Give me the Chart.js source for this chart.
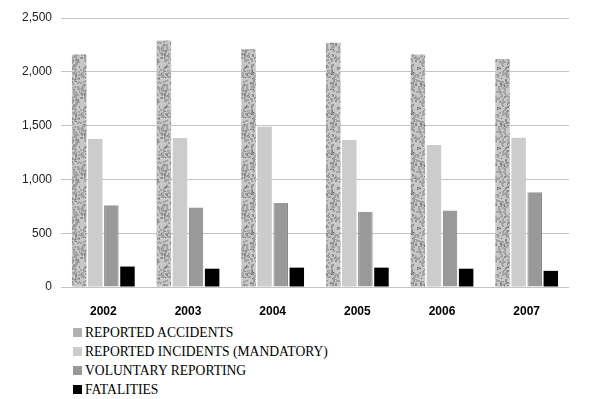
<!DOCTYPE html>
<html>
<head>
<meta charset="utf-8">
<script src="https://cdn.jsdelivr.net/npm/chart.js@4"></script>
<style>
  body { margin: 0; background: #fff; }
  #wrap { width: 595px; height: 320px; position: relative; }
  #legend { margin: 3px 0 0 73px; font-family: "Liberation Serif", "Times New Roman", serif; font-size: 13.6px; color: #000; }
  #legend div { height: 19px; line-height: 19px; display: flex; align-items: center; }
  #legend span.box { display: inline-block; width: 9px; height: 9px; margin-right: 3px; }
</style>
</head>
<body>
<div id="wrap"><canvas id="chart"></canvas></div>
<div id="legend"></div>
<script>
const years = ["2002", "2003", "2004", "2005", "2006", "2007"];
const accidents = [2160, 2290, 2210, 2270, 2160, 2120];
const incidents = [1375, 1385, 1490, 1366, 1320, 1388];
const voluntary = [760, 740, 780, 700, 710, 880];
const fatalities = [190, 170, 180, 180, 170, 150];
const seriesNames = ["REPORTED ACCIDENTS", "REPORTED INCIDENTS (MANDATORY)", "VOLUNTARY REPORTING", "FATALITIES"];

// granite-like texture for the accidents bars (fixed seed so it stays the same)
function granite() {
  const n = 40;
  const c = document.createElement("canvas");
  c.width = n; c.height = n;
  const g = c.getContext("2d");
  g.fillStyle = "#c8c8c8";
  g.fillRect(0, 0, n, n);
  let s = 11;
  const rnd = () => { s = (s * 1103515245 + 12345) & 0x7fffffff; return s / 0x7fffffff; };
  for (let k = 0; k < 260; k++) {
    const x = Math.floor(rnd() * n), y = Math.floor(rnd() * n);
    g.fillStyle = rnd() < 0.8 ? "#a2a2a2" : "#8c8c8c";
    g.fillRect(x, y, 2, 2);
  }
  for (let k = 0; k < 70; k++) {
    const x = Math.floor(rnd() * n), y = Math.floor(rnd() * n);
    g.fillStyle = rnd() < 0.5 ? "#bcbcdc" : "#6e6e6e";
    g.fillRect(x, y, 1, 1);
  }
  return g.createPattern(c, "repeat");
}
const pat = granite();

const colors = [pat, "#cccccc", "#999999", "#000000"];
const borders = [pat, "#cccccc", "#7a7a7a", "#000000"];
const values = [accidents, incidents, voluntary, fatalities];

new Chart(document.getElementById("chart"), {
  type: "bar",
  data: {
    labels: years,
    datasets: values.map((v, i) => ({
      label: seriesNames[i],
      data: v,
      backgroundColor: colors[i],
      borderColor: borders[i],
      borderWidth: i === 2 ? { left: 1, right: 1, top: 0, bottom: 0 } : 0,
      categoryPercentage: 0.76,
      barPercentage: 0.9
    }))
  },
  options: {
    responsive: true,
    maintainAspectRatio: false,
    animation: false,
    layout: { padding: { top: 18, right: 26, left: 0, bottom: 0 } },
    plugins: { legend: { display: false }, tooltip: { enabled: false } },
    scales: {
      x: {
        grid: { display: false },
        border: { display: false },
        ticks: { color: "#000", font: { family: "Liberation Sans, Arial", size: 12, weight: "bold" }, padding: 9 },
        afterFit: s => { s.height = 33; }
      },
      y: {
        min: 0, max: 2500,
        ticks: { stepSize: 500, color: "#222", font: { family: "Liberation Sans, Arial", size: 12 }, padding: 9 },
        grid: { color: "#c4c4c4", drawTicks: false },
        border: { display: false },
        afterFit: s => { s.width = 61; }
      }
    }
  }
});

const legendEl = document.getElementById("legend");
const swatch = ["#b0b0b0", "#cccccc", "#999999", "#000000"];
seriesNames.forEach((n, i) => {
  const row = document.createElement("div");
  const b = document.createElement("span");
  b.className = "box";
  b.style.background = swatch[i];
  row.appendChild(b);
  row.appendChild(document.createTextNode(n));
  legendEl.appendChild(row);
});
</script>
</body>
</html>
